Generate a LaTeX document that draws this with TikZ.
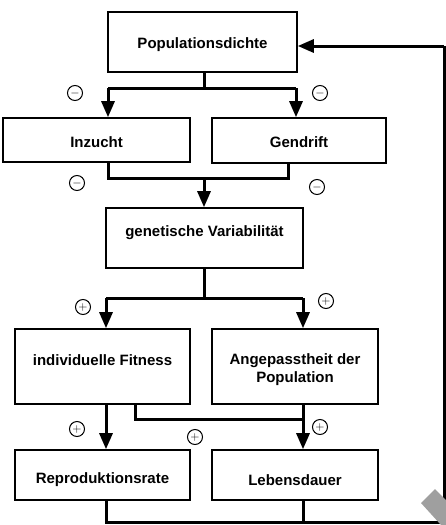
\documentclass[tikz,border=0pt]{standalone}
\usepackage{fontspec}
\setmainfont{Liberation Sans}
\usetikzlibrary{arrows.meta}
\begin{document}
\begin{tikzpicture}[x=1pt,y=-1pt,
  box/.style={draw,line width=1.6pt,inner sep=0pt,anchor=center},
  txt/.style={font=\fontsize{15}{18}\selectfont\bfseries,inner sep=0pt,align=center},
  conn/.style={line width=3pt},
  arr/.style={line width=3pt,-{Triangle[width=13pt,length=16pt]}},
  sgn/.style={draw,circle,line width=1pt,minimum size=15pt,inner sep=0pt,font=\fontsize{12}{12}\selectfont}]
\useasboundingbox (0,0) rectangle (446,525);
\fill[white] (0,0) rectangle (446,525);
% boxes
\node[box,minimum width=189pt,minimum height=60pt] (pop) at (202.5,42) {};
\node[txt] (popT) at (202.5,45) {Populationsdichte};
\node[box,minimum width=187pt,minimum height=44pt] (inz) at (96.5,140) {};
\node[txt] (inzT) at (96.5,142) {Inzucht};
\node[box,minimum width=174pt,minimum height=45pt] (gen) at (299,140.5) {};
\node[txt] (genT) at (299,142) {Gendrift};
\node[box,minimum width=197pt,minimum height=60pt] (gv) at (204.5,238) {};
\node[txt] (gvT) at (204.5,233) {genetische Variabilität};
\node[box,minimum width=175pt,minimum height=75pt] (fit) at (102.5,366.5) {};
\node[txt] (fitT) at (102.5,360) {individuelle Fitness};
\node[box,minimum width=166pt,minimum height=75pt] (ang) at (295,366.5) {};
\node[txt] (angT) at (295,370) {Angepasstheit der\\Population};
\node[box,minimum width=175pt,minimum height=50pt] (rep) at (102.5,475) {};
\node[txt] (repT) at (102.5,480) {Reproduktionsrate};
\node[box,minimum width=166pt,minimum height=50pt] (leb) at (295,475) {};
\node[txt] (lebT) at (295,480) {Lebensdauer};
% junction coordinates
\coordinate (j1) at (204,88);
\coordinate (a1) at (108,88);
\coordinate (a2) at (296,88);
\coordinate (b1) at (108,178);
\coordinate (b2) at (288,178);
\coordinate (j2) at (204,178);
\coordinate (j3) at (204,298);
\coordinate (c1) at (106,298);
\coordinate (c2) at (303,298);
\coordinate (d0) at (135,419);
\coordinate (d1) at (303,419);
\coordinate (e1) at (106,522);
\coordinate (e2) at (303,522);
\coordinate (e3) at (444,522);
\coordinate (fb) at (444,46);
% connectors
\draw[conn] (pop.south -| j1) -- (j1);
\draw[conn] (a1) -- (a2);
\draw[arr] (a1) -- (a1 |- inz.north);
\draw[arr] (a2) -- (a2 |- gen.north);
\draw[conn] (inz.south -| b1) -- (b1) -- (b2) -- (gen.south -| b2);
\draw[arr] (j2) -- (j2 |- gv.north);
\draw[conn] (gv.south -| j3) -- (j3);
\draw[conn] (c1) -- (c2);
\draw[arr] (c1) -- (c1 |- fit.north);
\draw[arr] (c2) -- (c2 |- ang.north);
\draw[arr] (fit.south -| c1) -- (c1 |- rep.north);
\draw[conn] (fit.south -| d0) -- (d0) -- (d1);
\draw[arr] (ang.south -| c2) -- (c2 |- leb.north);
\draw[conn] (rep.south -| e1) -- (e1) -- (e3) -- (fb);
\draw[conn] (leb.south -| e2) -- (e2);
\draw[arr] (fb) -- (fb -| pop.east);
% signs
\node[sgn] (m1) at (75,93) {$-$};
\node[sgn] (m2) at (320,93) {$-$};
\node[sgn] (m3) at (77,183) {$-$};
\node[sgn] (m4) at (317,187) {$-$};
\node[sgn] (p1) at (83,307) {$+$};
\node[sgn] (p2) at (326,301) {$+$};
\node[sgn] (p3) at (77,429) {$+$};
\node[sgn] (p4) at (195,437) {$+$};
\node[sgn] (p5) at (320,427) {$+$};
% corner mark
\fill[gray!75!white] (421,503) -- (435,489) -- (446,500) -- (446,525) -- (441,525) -- cycle;
\end{tikzpicture}
\end{document}
